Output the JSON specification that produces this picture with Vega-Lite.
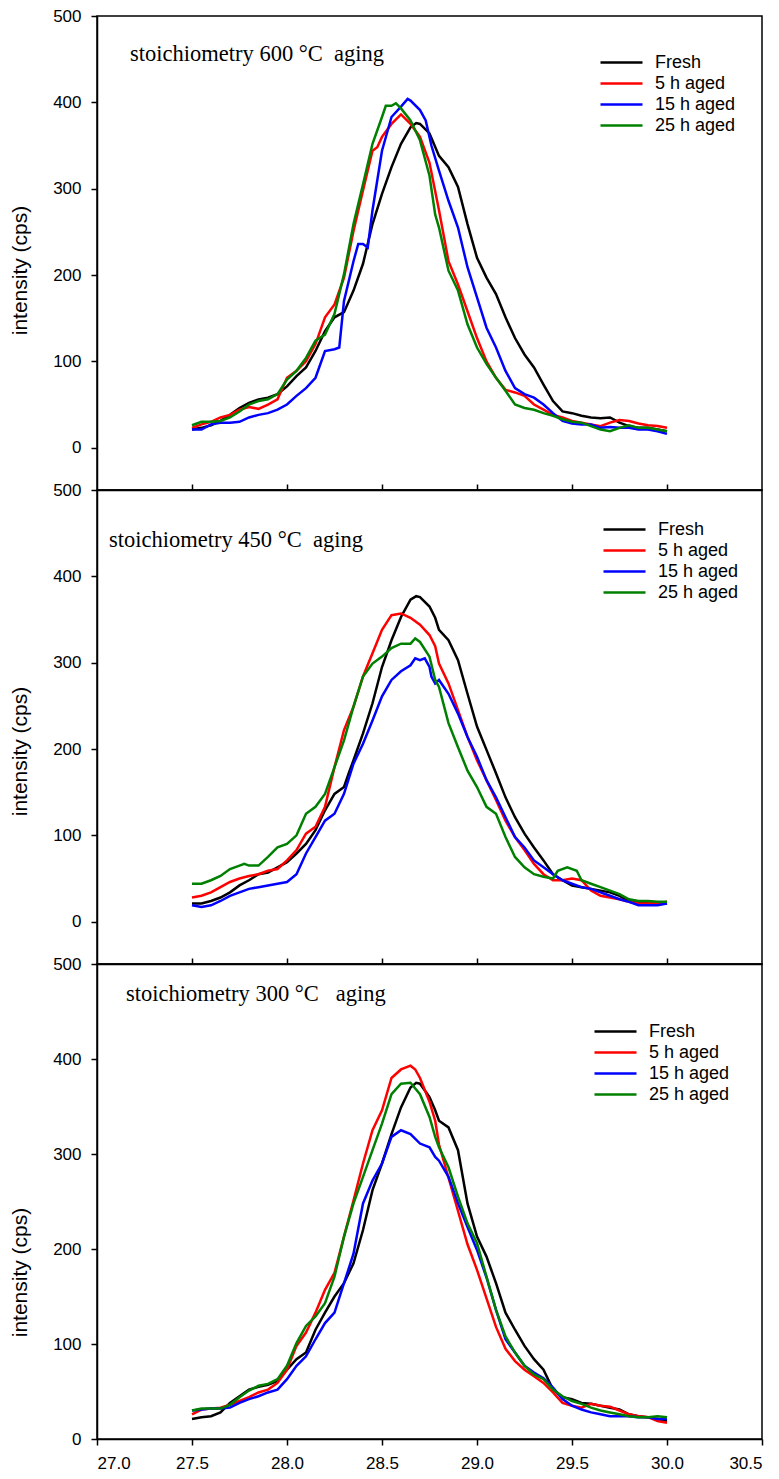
{
"$schema": "https://vega.github.io/schema/vega-lite/v6.json",
"autosize": {"type": "none"},
"padding": {"left": 97, "top": 16, "right": 682, "bottom": 1463},
"background": "white",
"spacing": 0,
"bounds": "flush",
"resolve": {"legend": {"color": "independent"}},
"config": {
  "font": "Liberation Sans",
  "view": {"stroke": "#000000", "strokeWidth": 1.5},
  "axis": {"domainColor": "#000000", "domainWidth": 1.5, "tickColor": "#000000", "tickWidth": 1.5, "labelColor": "#000000", "titleColor": "#000000", "labelFont": "Liberation Sans", "labelFontSize": 17, "titleFont": "Liberation Sans", "titleFontSize": 21, "titleFontWeight": "normal", "grid": false},
  "legend": {"labelFont": "Liberation Sans", "labelFontSize": 18, "labelColor": "#000000", "padding": 0, "rowPadding": 0, "symbolType": "M-2.1,0H2.1", "symbolSize": 400, "symbolStrokeWidth": 2.5, "labelOffset": 22, "orient": "none"}
},
"datasets": {
"curves": [
{"p":"600","s":"Fresh","x":27.5,"y":21},{"p":"600","s":"Fresh","x":27.55,"y":23},{"p":"600","s":"Fresh","x":27.6,"y":26},{"p":"600","s":"Fresh","x":27.65,"y":31},{"p":"600","s":"Fresh","x":27.7,"y":38},{"p":"600","s":"Fresh","x":27.75,"y":46},{"p":"600","s":"Fresh","x":27.8,"y":52},{"p":"600","s":"Fresh","x":27.85,"y":56},{"p":"600","s":"Fresh","x":27.9,"y":58},{"p":"600","s":"Fresh","x":27.95,"y":62},{"p":"600","s":"Fresh","x":28.0,"y":71},{"p":"600","s":"Fresh","x":28.05,"y":83},{"p":"600","s":"Fresh","x":28.1,"y":93},{"p":"600","s":"Fresh","x":28.15,"y":112},{"p":"600","s":"Fresh","x":28.2,"y":135},{"p":"600","s":"Fresh","x":28.25,"y":151},{"p":"600","s":"Fresh","x":28.3,"y":157},{"p":"600","s":"Fresh","x":28.35,"y":182},{"p":"600","s":"Fresh","x":28.4,"y":213},{"p":"600","s":"Fresh","x":28.45,"y":259},{"p":"600","s":"Fresh","x":28.5,"y":294},{"p":"600","s":"Fresh","x":28.55,"y":325},{"p":"600","s":"Fresh","x":28.6,"y":352},{"p":"600","s":"Fresh","x":28.65,"y":371},{"p":"600","s":"Fresh","x":28.68,"y":376},{"p":"600","s":"Fresh","x":28.7,"y":375},{"p":"600","s":"Fresh","x":28.75,"y":364},{"p":"600","s":"Fresh","x":28.8,"y":338},{"p":"600","s":"Fresh","x":28.85,"y":325},{"p":"600","s":"Fresh","x":28.9,"y":302},{"p":"600","s":"Fresh","x":28.95,"y":259},{"p":"600","s":"Fresh","x":29.0,"y":220},{"p":"600","s":"Fresh","x":29.05,"y":197},{"p":"600","s":"Fresh","x":29.1,"y":178},{"p":"600","s":"Fresh","x":29.15,"y":151},{"p":"600","s":"Fresh","x":29.2,"y":127},{"p":"600","s":"Fresh","x":29.25,"y":108},{"p":"600","s":"Fresh","x":29.3,"y":93},{"p":"600","s":"Fresh","x":29.35,"y":73},{"p":"600","s":"Fresh","x":29.4,"y":54},{"p":"600","s":"Fresh","x":29.45,"y":42},{"p":"600","s":"Fresh","x":29.5,"y":40},{"p":"600","s":"Fresh","x":29.55,"y":37},{"p":"600","s":"Fresh","x":29.6,"y":35},{"p":"600","s":"Fresh","x":29.65,"y":34},{"p":"600","s":"Fresh","x":29.7,"y":35},{"p":"600","s":"Fresh","x":29.75,"y":29},{"p":"600","s":"Fresh","x":29.8,"y":25},{"p":"600","s":"Fresh","x":29.85,"y":23},{"p":"600","s":"Fresh","x":29.9,"y":23},{"p":"600","s":"Fresh","x":29.95,"y":21},{"p":"600","s":"Fresh","x":30.0,"y":19},
{"p":"600","s":"5 h aged","x":27.5,"y":23},{"p":"600","s":"5 h aged","x":27.55,"y":27},{"p":"600","s":"5 h aged","x":27.6,"y":30},{"p":"600","s":"5 h aged","x":27.65,"y":35},{"p":"600","s":"5 h aged","x":27.7,"y":38},{"p":"600","s":"5 h aged","x":27.75,"y":44},{"p":"600","s":"5 h aged","x":27.8,"y":47},{"p":"600","s":"5 h aged","x":27.85,"y":45},{"p":"600","s":"5 h aged","x":27.9,"y":50},{"p":"600","s":"5 h aged","x":27.95,"y":56},{"p":"600","s":"5 h aged","x":28.0,"y":81},{"p":"600","s":"5 h aged","x":28.05,"y":89},{"p":"600","s":"5 h aged","x":28.1,"y":100},{"p":"600","s":"5 h aged","x":28.15,"y":120},{"p":"600","s":"5 h aged","x":28.2,"y":151},{"p":"600","s":"5 h aged","x":28.25,"y":166},{"p":"600","s":"5 h aged","x":28.3,"y":197},{"p":"600","s":"5 h aged","x":28.35,"y":251},{"p":"600","s":"5 h aged","x":28.4,"y":298},{"p":"600","s":"5 h aged","x":28.45,"y":344},{"p":"600","s":"5 h aged","x":28.475,"y":348},{"p":"600","s":"5 h aged","x":28.5,"y":360},{"p":"600","s":"5 h aged","x":28.55,"y":375},{"p":"600","s":"5 h aged","x":28.6,"y":386},{"p":"600","s":"5 h aged","x":28.65,"y":375},{"p":"600","s":"5 h aged","x":28.7,"y":360},{"p":"600","s":"5 h aged","x":28.75,"y":330},{"p":"600","s":"5 h aged","x":28.8,"y":275},{"p":"600","s":"5 h aged","x":28.85,"y":216},{"p":"600","s":"5 h aged","x":28.9,"y":189},{"p":"600","s":"5 h aged","x":28.95,"y":158},{"p":"600","s":"5 h aged","x":29.0,"y":127},{"p":"600","s":"5 h aged","x":29.05,"y":100},{"p":"600","s":"5 h aged","x":29.1,"y":81},{"p":"600","s":"5 h aged","x":29.15,"y":67},{"p":"600","s":"5 h aged","x":29.2,"y":64},{"p":"600","s":"5 h aged","x":29.25,"y":60},{"p":"600","s":"5 h aged","x":29.3,"y":50},{"p":"600","s":"5 h aged","x":29.35,"y":44},{"p":"600","s":"5 h aged","x":29.4,"y":38},{"p":"600","s":"5 h aged","x":29.45,"y":35},{"p":"600","s":"5 h aged","x":29.5,"y":31},{"p":"600","s":"5 h aged","x":29.55,"y":29},{"p":"600","s":"5 h aged","x":29.6,"y":27},{"p":"600","s":"5 h aged","x":29.65,"y":25},{"p":"600","s":"5 h aged","x":29.7,"y":29},{"p":"600","s":"5 h aged","x":29.75,"y":32},{"p":"600","s":"5 h aged","x":29.8,"y":31},{"p":"600","s":"5 h aged","x":29.85,"y":28},{"p":"600","s":"5 h aged","x":29.9,"y":26},{"p":"600","s":"5 h aged","x":29.95,"y":25},{"p":"600","s":"5 h aged","x":30.0,"y":23},
{"p":"600","s":"15 h aged","x":27.5,"y":21},{"p":"600","s":"15 h aged","x":27.55,"y":21},{"p":"600","s":"15 h aged","x":27.6,"y":27},{"p":"600","s":"15 h aged","x":27.65,"y":29},{"p":"600","s":"15 h aged","x":27.7,"y":29},{"p":"600","s":"15 h aged","x":27.75,"y":30},{"p":"600","s":"15 h aged","x":27.8,"y":35},{"p":"600","s":"15 h aged","x":27.85,"y":38},{"p":"600","s":"15 h aged","x":27.9,"y":40},{"p":"600","s":"15 h aged","x":27.95,"y":44},{"p":"600","s":"15 h aged","x":28.0,"y":50},{"p":"600","s":"15 h aged","x":28.05,"y":60},{"p":"600","s":"15 h aged","x":28.1,"y":69},{"p":"600","s":"15 h aged","x":28.15,"y":81},{"p":"600","s":"15 h aged","x":28.2,"y":112},{"p":"600","s":"15 h aged","x":28.25,"y":114},{"p":"600","s":"15 h aged","x":28.275,"y":116},{"p":"600","s":"15 h aged","x":28.3,"y":170},{"p":"600","s":"15 h aged","x":28.35,"y":216},{"p":"600","s":"15 h aged","x":28.375,"y":236},{"p":"600","s":"15 h aged","x":28.4,"y":236},{"p":"600","s":"15 h aged","x":28.425,"y":232},{"p":"600","s":"15 h aged","x":28.45,"y":275},{"p":"600","s":"15 h aged","x":28.5,"y":344},{"p":"600","s":"15 h aged","x":28.55,"y":383},{"p":"600","s":"15 h aged","x":28.6,"y":395},{"p":"600","s":"15 h aged","x":28.635,"y":404},{"p":"600","s":"15 h aged","x":28.65,"y":402},{"p":"600","s":"15 h aged","x":28.7,"y":391},{"p":"600","s":"15 h aged","x":28.73,"y":379},{"p":"600","s":"15 h aged","x":28.76,"y":350},{"p":"600","s":"15 h aged","x":28.8,"y":321},{"p":"600","s":"15 h aged","x":28.85,"y":286},{"p":"600","s":"15 h aged","x":28.9,"y":255},{"p":"600","s":"15 h aged","x":28.95,"y":209},{"p":"600","s":"15 h aged","x":29.0,"y":174},{"p":"600","s":"15 h aged","x":29.05,"y":139},{"p":"600","s":"15 h aged","x":29.1,"y":116},{"p":"600","s":"15 h aged","x":29.15,"y":89},{"p":"600","s":"15 h aged","x":29.2,"y":69},{"p":"600","s":"15 h aged","x":29.25,"y":62},{"p":"600","s":"15 h aged","x":29.3,"y":58},{"p":"600","s":"15 h aged","x":29.35,"y":50},{"p":"600","s":"15 h aged","x":29.4,"y":40},{"p":"600","s":"15 h aged","x":29.45,"y":31},{"p":"600","s":"15 h aged","x":29.5,"y":28},{"p":"600","s":"15 h aged","x":29.55,"y":27},{"p":"600","s":"15 h aged","x":29.6,"y":27},{"p":"600","s":"15 h aged","x":29.65,"y":23},{"p":"600","s":"15 h aged","x":29.7,"y":24},{"p":"600","s":"15 h aged","x":29.75,"y":23},{"p":"600","s":"15 h aged","x":29.8,"y":23},{"p":"600","s":"15 h aged","x":29.85,"y":21},{"p":"600","s":"15 h aged","x":29.9,"y":21},{"p":"600","s":"15 h aged","x":29.95,"y":19},{"p":"600","s":"15 h aged","x":30.0,"y":16},
{"p":"600","s":"25 h aged","x":27.5,"y":26},{"p":"600","s":"25 h aged","x":27.55,"y":30},{"p":"600","s":"25 h aged","x":27.6,"y":30},{"p":"600","s":"25 h aged","x":27.65,"y":31},{"p":"600","s":"25 h aged","x":27.7,"y":35},{"p":"600","s":"25 h aged","x":27.75,"y":42},{"p":"600","s":"25 h aged","x":27.8,"y":50},{"p":"600","s":"25 h aged","x":27.85,"y":54},{"p":"600","s":"25 h aged","x":27.9,"y":56},{"p":"600","s":"25 h aged","x":27.95,"y":62},{"p":"600","s":"25 h aged","x":28.0,"y":79},{"p":"600","s":"25 h aged","x":28.05,"y":89},{"p":"600","s":"25 h aged","x":28.1,"y":104},{"p":"600","s":"25 h aged","x":28.15,"y":124},{"p":"600","s":"25 h aged","x":28.2,"y":131},{"p":"600","s":"25 h aged","x":28.25,"y":155},{"p":"600","s":"25 h aged","x":28.3,"y":201},{"p":"600","s":"25 h aged","x":28.35,"y":259},{"p":"600","s":"25 h aged","x":28.4,"y":305},{"p":"600","s":"25 h aged","x":28.45,"y":352},{"p":"600","s":"25 h aged","x":28.5,"y":383},{"p":"600","s":"25 h aged","x":28.52,"y":396},{"p":"600","s":"25 h aged","x":28.55,"y":396},{"p":"600","s":"25 h aged","x":28.573,"y":399},{"p":"600","s":"25 h aged","x":28.6,"y":393},{"p":"600","s":"25 h aged","x":28.65,"y":379},{"p":"600","s":"25 h aged","x":28.7,"y":356},{"p":"600","s":"25 h aged","x":28.75,"y":315},{"p":"600","s":"25 h aged","x":28.78,"y":270},{"p":"600","s":"25 h aged","x":28.8,"y":255},{"p":"600","s":"25 h aged","x":28.85,"y":205},{"p":"600","s":"25 h aged","x":28.9,"y":182},{"p":"600","s":"25 h aged","x":28.95,"y":143},{"p":"600","s":"25 h aged","x":29.0,"y":116},{"p":"600","s":"25 h aged","x":29.05,"y":97},{"p":"600","s":"25 h aged","x":29.1,"y":81},{"p":"600","s":"25 h aged","x":29.15,"y":66},{"p":"600","s":"25 h aged","x":29.2,"y":50},{"p":"600","s":"25 h aged","x":29.25,"y":46},{"p":"600","s":"25 h aged","x":29.3,"y":44},{"p":"600","s":"25 h aged","x":29.35,"y":40},{"p":"600","s":"25 h aged","x":29.4,"y":37},{"p":"600","s":"25 h aged","x":29.45,"y":33},{"p":"600","s":"25 h aged","x":29.5,"y":30},{"p":"600","s":"25 h aged","x":29.55,"y":29},{"p":"600","s":"25 h aged","x":29.6,"y":25},{"p":"600","s":"25 h aged","x":29.65,"y":21},{"p":"600","s":"25 h aged","x":29.7,"y":19},{"p":"600","s":"25 h aged","x":29.75,"y":23},{"p":"600","s":"25 h aged","x":29.8,"y":26},{"p":"600","s":"25 h aged","x":29.85,"y":23},{"p":"600","s":"25 h aged","x":29.9,"y":23},{"p":"600","s":"25 h aged","x":29.95,"y":21},{"p":"600","s":"25 h aged","x":30.0,"y":19},
{"p":"450","s":"Fresh","x":27.5,"y":21},{"p":"450","s":"Fresh","x":27.55,"y":21},{"p":"450","s":"Fresh","x":27.6,"y":24},{"p":"450","s":"Fresh","x":27.65,"y":28},{"p":"450","s":"Fresh","x":27.7,"y":34},{"p":"450","s":"Fresh","x":27.75,"y":42},{"p":"450","s":"Fresh","x":27.8,"y":48},{"p":"450","s":"Fresh","x":27.85,"y":55},{"p":"450","s":"Fresh","x":27.9,"y":57},{"p":"450","s":"Fresh","x":27.95,"y":63},{"p":"450","s":"Fresh","x":28.0,"y":69},{"p":"450","s":"Fresh","x":28.05,"y":79},{"p":"450","s":"Fresh","x":28.1,"y":90},{"p":"450","s":"Fresh","x":28.15,"y":106},{"p":"450","s":"Fresh","x":28.2,"y":129},{"p":"450","s":"Fresh","x":28.25,"y":148},{"p":"450","s":"Fresh","x":28.3,"y":156},{"p":"450","s":"Fresh","x":28.325,"y":172},{"p":"450","s":"Fresh","x":28.35,"y":187},{"p":"450","s":"Fresh","x":28.4,"y":218},{"p":"450","s":"Fresh","x":28.45,"y":253},{"p":"450","s":"Fresh","x":28.5,"y":295},{"p":"450","s":"Fresh","x":28.55,"y":326},{"p":"450","s":"Fresh","x":28.6,"y":353},{"p":"450","s":"Fresh","x":28.65,"y":373},{"p":"450","s":"Fresh","x":28.68,"y":377},{"p":"450","s":"Fresh","x":28.7,"y":376},{"p":"450","s":"Fresh","x":28.75,"y":365},{"p":"450","s":"Fresh","x":28.78,"y":352},{"p":"450","s":"Fresh","x":28.8,"y":338},{"p":"450","s":"Fresh","x":28.85,"y":326},{"p":"450","s":"Fresh","x":28.9,"y":303},{"p":"450","s":"Fresh","x":28.95,"y":264},{"p":"450","s":"Fresh","x":29.0,"y":226},{"p":"450","s":"Fresh","x":29.05,"y":199},{"p":"450","s":"Fresh","x":29.1,"y":172},{"p":"450","s":"Fresh","x":29.15,"y":144},{"p":"450","s":"Fresh","x":29.2,"y":121},{"p":"450","s":"Fresh","x":29.25,"y":102},{"p":"450","s":"Fresh","x":29.3,"y":86},{"p":"450","s":"Fresh","x":29.35,"y":71},{"p":"450","s":"Fresh","x":29.4,"y":55},{"p":"450","s":"Fresh","x":29.45,"y":48},{"p":"450","s":"Fresh","x":29.5,"y":42},{"p":"450","s":"Fresh","x":29.55,"y":40},{"p":"450","s":"Fresh","x":29.6,"y":38},{"p":"450","s":"Fresh","x":29.65,"y":36},{"p":"450","s":"Fresh","x":29.7,"y":34},{"p":"450","s":"Fresh","x":29.75,"y":30},{"p":"450","s":"Fresh","x":29.8,"y":24},{"p":"450","s":"Fresh","x":29.85,"y":23},{"p":"450","s":"Fresh","x":29.9,"y":21},{"p":"450","s":"Fresh","x":29.95,"y":21},{"p":"450","s":"Fresh","x":30.0,"y":21},
{"p":"450","s":"5 h aged","x":27.5,"y":28},{"p":"450","s":"5 h aged","x":27.55,"y":30},{"p":"450","s":"5 h aged","x":27.6,"y":34},{"p":"450","s":"5 h aged","x":27.65,"y":40},{"p":"450","s":"5 h aged","x":27.7,"y":46},{"p":"450","s":"5 h aged","x":27.75,"y":50},{"p":"450","s":"5 h aged","x":27.8,"y":53},{"p":"450","s":"5 h aged","x":27.85,"y":55},{"p":"450","s":"5 h aged","x":27.9,"y":59},{"p":"450","s":"5 h aged","x":27.95,"y":61},{"p":"450","s":"5 h aged","x":28.0,"y":71},{"p":"450","s":"5 h aged","x":28.05,"y":83},{"p":"450","s":"5 h aged","x":28.1,"y":102},{"p":"450","s":"5 h aged","x":28.15,"y":110},{"p":"450","s":"5 h aged","x":28.2,"y":133},{"p":"450","s":"5 h aged","x":28.25,"y":179},{"p":"450","s":"5 h aged","x":28.3,"y":222},{"p":"450","s":"5 h aged","x":28.35,"y":249},{"p":"450","s":"5 h aged","x":28.4,"y":284},{"p":"450","s":"5 h aged","x":28.45,"y":311},{"p":"450","s":"5 h aged","x":28.5,"y":338},{"p":"450","s":"5 h aged","x":28.55,"y":355},{"p":"450","s":"5 h aged","x":28.6,"y":357},{"p":"450","s":"5 h aged","x":28.65,"y":352},{"p":"450","s":"5 h aged","x":28.7,"y":344},{"p":"450","s":"5 h aged","x":28.75,"y":332},{"p":"450","s":"5 h aged","x":28.78,"y":319},{"p":"450","s":"5 h aged","x":28.8,"y":299},{"p":"450","s":"5 h aged","x":28.85,"y":276},{"p":"450","s":"5 h aged","x":28.9,"y":245},{"p":"450","s":"5 h aged","x":28.95,"y":214},{"p":"450","s":"5 h aged","x":29.0,"y":187},{"p":"450","s":"5 h aged","x":29.05,"y":164},{"p":"450","s":"5 h aged","x":29.1,"y":141},{"p":"450","s":"5 h aged","x":29.15,"y":117},{"p":"450","s":"5 h aged","x":29.2,"y":98},{"p":"450","s":"5 h aged","x":29.25,"y":83},{"p":"450","s":"5 h aged","x":29.3,"y":67},{"p":"450","s":"5 h aged","x":29.35,"y":55},{"p":"450","s":"5 h aged","x":29.4,"y":48},{"p":"450","s":"5 h aged","x":29.45,"y":48},{"p":"450","s":"5 h aged","x":29.5,"y":50},{"p":"450","s":"5 h aged","x":29.55,"y":48},{"p":"450","s":"5 h aged","x":29.6,"y":36},{"p":"450","s":"5 h aged","x":29.65,"y":30},{"p":"450","s":"5 h aged","x":29.7,"y":28},{"p":"450","s":"5 h aged","x":29.75,"y":26},{"p":"450","s":"5 h aged","x":29.8,"y":23},{"p":"450","s":"5 h aged","x":29.85,"y":21},{"p":"450","s":"5 h aged","x":29.9,"y":21},{"p":"450","s":"5 h aged","x":29.95,"y":21},{"p":"450","s":"5 h aged","x":30.0,"y":23},
{"p":"450","s":"15 h aged","x":27.5,"y":19},{"p":"450","s":"15 h aged","x":27.55,"y":17},{"p":"450","s":"15 h aged","x":27.6,"y":19},{"p":"450","s":"15 h aged","x":27.65,"y":24},{"p":"450","s":"15 h aged","x":27.7,"y":30},{"p":"450","s":"15 h aged","x":27.75,"y":34},{"p":"450","s":"15 h aged","x":27.8,"y":38},{"p":"450","s":"15 h aged","x":27.85,"y":40},{"p":"450","s":"15 h aged","x":27.9,"y":42},{"p":"450","s":"15 h aged","x":27.95,"y":44},{"p":"450","s":"15 h aged","x":28.0,"y":46},{"p":"450","s":"15 h aged","x":28.05,"y":55},{"p":"450","s":"15 h aged","x":28.1,"y":79},{"p":"450","s":"15 h aged","x":28.15,"y":98},{"p":"450","s":"15 h aged","x":28.2,"y":117},{"p":"450","s":"15 h aged","x":28.25,"y":125},{"p":"450","s":"15 h aged","x":28.3,"y":148},{"p":"450","s":"15 h aged","x":28.35,"y":183},{"p":"450","s":"15 h aged","x":28.4,"y":206},{"p":"450","s":"15 h aged","x":28.45,"y":233},{"p":"450","s":"15 h aged","x":28.5,"y":261},{"p":"450","s":"15 h aged","x":28.55,"y":280},{"p":"450","s":"15 h aged","x":28.6,"y":290},{"p":"450","s":"15 h aged","x":28.65,"y":297},{"p":"450","s":"15 h aged","x":28.675,"y":305},{"p":"450","s":"15 h aged","x":28.7,"y":303},{"p":"450","s":"15 h aged","x":28.725,"y":305},{"p":"450","s":"15 h aged","x":28.75,"y":295},{"p":"450","s":"15 h aged","x":28.76,"y":284},{"p":"450","s":"15 h aged","x":28.78,"y":276},{"p":"450","s":"15 h aged","x":28.8,"y":280},{"p":"450","s":"15 h aged","x":28.85,"y":264},{"p":"450","s":"15 h aged","x":28.9,"y":241},{"p":"450","s":"15 h aged","x":28.95,"y":214},{"p":"450","s":"15 h aged","x":29.0,"y":191},{"p":"450","s":"15 h aged","x":29.05,"y":164},{"p":"450","s":"15 h aged","x":29.1,"y":144},{"p":"450","s":"15 h aged","x":29.15,"y":121},{"p":"450","s":"15 h aged","x":29.2,"y":98},{"p":"450","s":"15 h aged","x":29.25,"y":86},{"p":"450","s":"15 h aged","x":29.3,"y":71},{"p":"450","s":"15 h aged","x":29.35,"y":63},{"p":"450","s":"15 h aged","x":29.4,"y":55},{"p":"450","s":"15 h aged","x":29.45,"y":48},{"p":"450","s":"15 h aged","x":29.5,"y":44},{"p":"450","s":"15 h aged","x":29.55,"y":40},{"p":"450","s":"15 h aged","x":29.6,"y":38},{"p":"450","s":"15 h aged","x":29.65,"y":34},{"p":"450","s":"15 h aged","x":29.7,"y":30},{"p":"450","s":"15 h aged","x":29.75,"y":26},{"p":"450","s":"15 h aged","x":29.8,"y":23},{"p":"450","s":"15 h aged","x":29.85,"y":19},{"p":"450","s":"15 h aged","x":29.9,"y":19},{"p":"450","s":"15 h aged","x":29.95,"y":19},{"p":"450","s":"15 h aged","x":30.0,"y":21},
{"p":"450","s":"25 h aged","x":27.5,"y":44},{"p":"450","s":"25 h aged","x":27.55,"y":44},{"p":"450","s":"25 h aged","x":27.6,"y":48},{"p":"450","s":"25 h aged","x":27.65,"y":53},{"p":"450","s":"25 h aged","x":27.7,"y":61},{"p":"450","s":"25 h aged","x":27.75,"y":65},{"p":"450","s":"25 h aged","x":27.775,"y":67},{"p":"450","s":"25 h aged","x":27.8,"y":65},{"p":"450","s":"25 h aged","x":27.85,"y":65},{"p":"450","s":"25 h aged","x":27.9,"y":75},{"p":"450","s":"25 h aged","x":27.95,"y":86},{"p":"450","s":"25 h aged","x":28.0,"y":90},{"p":"450","s":"25 h aged","x":28.05,"y":100},{"p":"450","s":"25 h aged","x":28.1,"y":125},{"p":"450","s":"25 h aged","x":28.15,"y":133},{"p":"450","s":"25 h aged","x":28.2,"y":148},{"p":"450","s":"25 h aged","x":28.25,"y":179},{"p":"450","s":"25 h aged","x":28.3,"y":210},{"p":"450","s":"25 h aged","x":28.35,"y":249},{"p":"450","s":"25 h aged","x":28.4,"y":284},{"p":"450","s":"25 h aged","x":28.45,"y":299},{"p":"450","s":"25 h aged","x":28.5,"y":307},{"p":"450","s":"25 h aged","x":28.55,"y":317},{"p":"450","s":"25 h aged","x":28.6,"y":322},{"p":"450","s":"25 h aged","x":28.65,"y":322},{"p":"450","s":"25 h aged","x":28.675,"y":328},{"p":"450","s":"25 h aged","x":28.7,"y":324},{"p":"450","s":"25 h aged","x":28.75,"y":307},{"p":"450","s":"25 h aged","x":28.78,"y":280},{"p":"450","s":"25 h aged","x":28.8,"y":272},{"p":"450","s":"25 h aged","x":28.85,"y":230},{"p":"450","s":"25 h aged","x":28.9,"y":202},{"p":"450","s":"25 h aged","x":28.95,"y":175},{"p":"450","s":"25 h aged","x":29.0,"y":156},{"p":"450","s":"25 h aged","x":29.05,"y":133},{"p":"450","s":"25 h aged","x":29.1,"y":125},{"p":"450","s":"25 h aged","x":29.15,"y":98},{"p":"450","s":"25 h aged","x":29.2,"y":75},{"p":"450","s":"25 h aged","x":29.25,"y":63},{"p":"450","s":"25 h aged","x":29.3,"y":55},{"p":"450","s":"25 h aged","x":29.35,"y":52},{"p":"450","s":"25 h aged","x":29.4,"y":50},{"p":"450","s":"25 h aged","x":29.425,"y":59},{"p":"450","s":"25 h aged","x":29.475,"y":63},{"p":"450","s":"25 h aged","x":29.525,"y":59},{"p":"450","s":"25 h aged","x":29.55,"y":48},{"p":"450","s":"25 h aged","x":29.6,"y":44},{"p":"450","s":"25 h aged","x":29.65,"y":40},{"p":"450","s":"25 h aged","x":29.7,"y":36},{"p":"450","s":"25 h aged","x":29.75,"y":32},{"p":"450","s":"25 h aged","x":29.8,"y":26},{"p":"450","s":"25 h aged","x":29.85,"y":24},{"p":"450","s":"25 h aged","x":29.9,"y":24},{"p":"450","s":"25 h aged","x":29.95,"y":23},{"p":"450","s":"25 h aged","x":30.0,"y":23},
{"p":"300","s":"Fresh","x":27.5,"y":21},{"p":"300","s":"Fresh","x":27.55,"y":23},{"p":"300","s":"Fresh","x":27.6,"y":24},{"p":"300","s":"Fresh","x":27.65,"y":28},{"p":"300","s":"Fresh","x":27.7,"y":38},{"p":"300","s":"Fresh","x":27.75,"y":45},{"p":"300","s":"Fresh","x":27.8,"y":52},{"p":"300","s":"Fresh","x":27.85,"y":55},{"p":"300","s":"Fresh","x":27.9,"y":57},{"p":"300","s":"Fresh","x":27.95,"y":61},{"p":"300","s":"Fresh","x":28.0,"y":73},{"p":"300","s":"Fresh","x":28.05,"y":84},{"p":"300","s":"Fresh","x":28.1,"y":91},{"p":"300","s":"Fresh","x":28.15,"y":115},{"p":"300","s":"Fresh","x":28.2,"y":133},{"p":"300","s":"Fresh","x":28.25,"y":150},{"p":"300","s":"Fresh","x":28.3,"y":164},{"p":"300","s":"Fresh","x":28.35,"y":185},{"p":"300","s":"Fresh","x":28.4,"y":220},{"p":"300","s":"Fresh","x":28.45,"y":262},{"p":"300","s":"Fresh","x":28.5,"y":290},{"p":"300","s":"Fresh","x":28.55,"y":321},{"p":"300","s":"Fresh","x":28.6,"y":349},{"p":"300","s":"Fresh","x":28.65,"y":370},{"p":"300","s":"Fresh","x":28.68,"y":375},{"p":"300","s":"Fresh","x":28.7,"y":374},{"p":"300","s":"Fresh","x":28.75,"y":360},{"p":"300","s":"Fresh","x":28.78,"y":346},{"p":"300","s":"Fresh","x":28.8,"y":335},{"p":"300","s":"Fresh","x":28.85,"y":328},{"p":"300","s":"Fresh","x":28.9,"y":304},{"p":"300","s":"Fresh","x":28.95,"y":248},{"p":"300","s":"Fresh","x":29.0,"y":213},{"p":"300","s":"Fresh","x":29.05,"y":192},{"p":"300","s":"Fresh","x":29.1,"y":164},{"p":"300","s":"Fresh","x":29.15,"y":133},{"p":"300","s":"Fresh","x":29.2,"y":115},{"p":"300","s":"Fresh","x":29.25,"y":98},{"p":"300","s":"Fresh","x":29.3,"y":84},{"p":"300","s":"Fresh","x":29.35,"y":73},{"p":"300","s":"Fresh","x":29.4,"y":52},{"p":"300","s":"Fresh","x":29.45,"y":44},{"p":"300","s":"Fresh","x":29.5,"y":42},{"p":"300","s":"Fresh","x":29.55,"y":38},{"p":"300","s":"Fresh","x":29.6,"y":37},{"p":"300","s":"Fresh","x":29.65,"y":35},{"p":"300","s":"Fresh","x":29.7,"y":33},{"p":"300","s":"Fresh","x":29.75,"y":31},{"p":"300","s":"Fresh","x":29.8,"y":26},{"p":"300","s":"Fresh","x":29.85,"y":24},{"p":"300","s":"Fresh","x":29.9,"y":23},{"p":"300","s":"Fresh","x":29.95,"y":21},{"p":"300","s":"Fresh","x":30.0,"y":19},
{"p":"300","s":"5 h aged","x":27.5,"y":26},{"p":"300","s":"5 h aged","x":27.55,"y":31},{"p":"300","s":"5 h aged","x":27.6,"y":32},{"p":"300","s":"5 h aged","x":27.65,"y":33},{"p":"300","s":"5 h aged","x":27.7,"y":36},{"p":"300","s":"5 h aged","x":27.75,"y":40},{"p":"300","s":"5 h aged","x":27.8,"y":44},{"p":"300","s":"5 h aged","x":27.85,"y":49},{"p":"300","s":"5 h aged","x":27.9,"y":52},{"p":"300","s":"5 h aged","x":27.95,"y":59},{"p":"300","s":"5 h aged","x":28.0,"y":73},{"p":"300","s":"5 h aged","x":28.05,"y":98},{"p":"300","s":"5 h aged","x":28.1,"y":112},{"p":"300","s":"5 h aged","x":28.15,"y":133},{"p":"300","s":"5 h aged","x":28.2,"y":157},{"p":"300","s":"5 h aged","x":28.25,"y":175},{"p":"300","s":"5 h aged","x":28.3,"y":213},{"p":"300","s":"5 h aged","x":28.35,"y":251},{"p":"300","s":"5 h aged","x":28.4,"y":290},{"p":"300","s":"5 h aged","x":28.45,"y":325},{"p":"300","s":"5 h aged","x":28.5,"y":346},{"p":"300","s":"5 h aged","x":28.55,"y":380},{"p":"300","s":"5 h aged","x":28.6,"y":389},{"p":"300","s":"5 h aged","x":28.65,"y":393},{"p":"300","s":"5 h aged","x":28.675,"y":389},{"p":"300","s":"5 h aged","x":28.7,"y":380},{"p":"300","s":"5 h aged","x":28.75,"y":355},{"p":"300","s":"5 h aged","x":28.78,"y":335},{"p":"300","s":"5 h aged","x":28.8,"y":310},{"p":"300","s":"5 h aged","x":28.85,"y":275},{"p":"300","s":"5 h aged","x":28.9,"y":240},{"p":"300","s":"5 h aged","x":28.95,"y":205},{"p":"300","s":"5 h aged","x":29.0,"y":178},{"p":"300","s":"5 h aged","x":29.05,"y":148},{"p":"300","s":"5 h aged","x":29.1,"y":118},{"p":"300","s":"5 h aged","x":29.15,"y":95},{"p":"300","s":"5 h aged","x":29.2,"y":82},{"p":"300","s":"5 h aged","x":29.25,"y":73},{"p":"300","s":"5 h aged","x":29.3,"y":66},{"p":"300","s":"5 h aged","x":29.35,"y":59},{"p":"300","s":"5 h aged","x":29.4,"y":49},{"p":"300","s":"5 h aged","x":29.45,"y":38},{"p":"300","s":"5 h aged","x":29.5,"y":35},{"p":"300","s":"5 h aged","x":29.55,"y":33},{"p":"300","s":"5 h aged","x":29.6,"y":37},{"p":"300","s":"5 h aged","x":29.65,"y":35},{"p":"300","s":"5 h aged","x":29.7,"y":34},{"p":"300","s":"5 h aged","x":29.75,"y":30},{"p":"300","s":"5 h aged","x":29.8,"y":26},{"p":"300","s":"5 h aged","x":29.85,"y":24},{"p":"300","s":"5 h aged","x":29.9,"y":23},{"p":"300","s":"5 h aged","x":29.95,"y":19},{"p":"300","s":"5 h aged","x":30.0,"y":17},
{"p":"300","s":"15 h aged","x":27.5,"y":30},{"p":"300","s":"15 h aged","x":27.55,"y":31},{"p":"300","s":"15 h aged","x":27.6,"y":32},{"p":"300","s":"15 h aged","x":27.65,"y":32},{"p":"300","s":"15 h aged","x":27.7,"y":33},{"p":"300","s":"15 h aged","x":27.75,"y":38},{"p":"300","s":"15 h aged","x":27.8,"y":42},{"p":"300","s":"15 h aged","x":27.85,"y":45},{"p":"300","s":"15 h aged","x":27.9,"y":49},{"p":"300","s":"15 h aged","x":27.95,"y":52},{"p":"300","s":"15 h aged","x":28.0,"y":63},{"p":"300","s":"15 h aged","x":28.05,"y":77},{"p":"300","s":"15 h aged","x":28.1,"y":87},{"p":"300","s":"15 h aged","x":28.15,"y":105},{"p":"300","s":"15 h aged","x":28.2,"y":122},{"p":"300","s":"15 h aged","x":28.25,"y":133},{"p":"300","s":"15 h aged","x":28.3,"y":164},{"p":"300","s":"15 h aged","x":28.35,"y":195},{"p":"300","s":"15 h aged","x":28.4,"y":248},{"p":"300","s":"15 h aged","x":28.45,"y":272},{"p":"300","s":"15 h aged","x":28.5,"y":290},{"p":"300","s":"15 h aged","x":28.55,"y":318},{"p":"300","s":"15 h aged","x":28.6,"y":325},{"p":"300","s":"15 h aged","x":28.65,"y":321},{"p":"300","s":"15 h aged","x":28.7,"y":311},{"p":"300","s":"15 h aged","x":28.75,"y":307},{"p":"300","s":"15 h aged","x":28.78,"y":297},{"p":"300","s":"15 h aged","x":28.8,"y":293},{"p":"300","s":"15 h aged","x":28.85,"y":276},{"p":"300","s":"15 h aged","x":28.9,"y":248},{"p":"300","s":"15 h aged","x":28.95,"y":223},{"p":"300","s":"15 h aged","x":29.0,"y":199},{"p":"300","s":"15 h aged","x":29.05,"y":170},{"p":"300","s":"15 h aged","x":29.1,"y":136},{"p":"300","s":"15 h aged","x":29.15,"y":105},{"p":"300","s":"15 h aged","x":29.2,"y":91},{"p":"300","s":"15 h aged","x":29.25,"y":77},{"p":"300","s":"15 h aged","x":29.3,"y":70},{"p":"300","s":"15 h aged","x":29.35,"y":64},{"p":"300","s":"15 h aged","x":29.4,"y":54},{"p":"300","s":"15 h aged","x":29.45,"y":42},{"p":"300","s":"15 h aged","x":29.5,"y":35},{"p":"300","s":"15 h aged","x":29.55,"y":31},{"p":"300","s":"15 h aged","x":29.6,"y":28},{"p":"300","s":"15 h aged","x":29.65,"y":26},{"p":"300","s":"15 h aged","x":29.7,"y":24},{"p":"300","s":"15 h aged","x":29.75,"y":24},{"p":"300","s":"15 h aged","x":29.8,"y":24},{"p":"300","s":"15 h aged","x":29.85,"y":23},{"p":"300","s":"15 h aged","x":29.9,"y":23},{"p":"300","s":"15 h aged","x":29.95,"y":21},{"p":"300","s":"15 h aged","x":30.0,"y":21},
{"p":"300","s":"25 h aged","x":27.5,"y":30},{"p":"300","s":"25 h aged","x":27.55,"y":32},{"p":"300","s":"25 h aged","x":27.6,"y":32},{"p":"300","s":"25 h aged","x":27.65,"y":32},{"p":"300","s":"25 h aged","x":27.7,"y":36},{"p":"300","s":"25 h aged","x":27.75,"y":44},{"p":"300","s":"25 h aged","x":27.8,"y":51},{"p":"300","s":"25 h aged","x":27.85,"y":56},{"p":"300","s":"25 h aged","x":27.9,"y":58},{"p":"300","s":"25 h aged","x":27.95,"y":63},{"p":"300","s":"25 h aged","x":28.0,"y":77},{"p":"300","s":"25 h aged","x":28.05,"y":101},{"p":"300","s":"25 h aged","x":28.1,"y":119},{"p":"300","s":"25 h aged","x":28.15,"y":129},{"p":"300","s":"25 h aged","x":28.2,"y":143},{"p":"300","s":"25 h aged","x":28.25,"y":171},{"p":"300","s":"25 h aged","x":28.3,"y":213},{"p":"300","s":"25 h aged","x":28.35,"y":248},{"p":"300","s":"25 h aged","x":28.4,"y":276},{"p":"300","s":"25 h aged","x":28.45,"y":304},{"p":"300","s":"25 h aged","x":28.5,"y":332},{"p":"300","s":"25 h aged","x":28.55,"y":363},{"p":"300","s":"25 h aged","x":28.6,"y":374},{"p":"300","s":"25 h aged","x":28.65,"y":375},{"p":"300","s":"25 h aged","x":28.7,"y":363},{"p":"300","s":"25 h aged","x":28.75,"y":339},{"p":"300","s":"25 h aged","x":28.78,"y":318},{"p":"300","s":"25 h aged","x":28.8,"y":307},{"p":"300","s":"25 h aged","x":28.85,"y":286},{"p":"300","s":"25 h aged","x":28.9,"y":255},{"p":"300","s":"25 h aged","x":28.95,"y":227},{"p":"300","s":"25 h aged","x":29.0,"y":206},{"p":"300","s":"25 h aged","x":29.05,"y":171},{"p":"300","s":"25 h aged","x":29.1,"y":136},{"p":"300","s":"25 h aged","x":29.15,"y":108},{"p":"300","s":"25 h aged","x":29.2,"y":91},{"p":"300","s":"25 h aged","x":29.25,"y":77},{"p":"300","s":"25 h aged","x":29.3,"y":68},{"p":"300","s":"25 h aged","x":29.35,"y":63},{"p":"300","s":"25 h aged","x":29.4,"y":52},{"p":"300","s":"25 h aged","x":29.45,"y":45},{"p":"300","s":"25 h aged","x":29.5,"y":40},{"p":"300","s":"25 h aged","x":29.55,"y":37},{"p":"300","s":"25 h aged","x":29.6,"y":33},{"p":"300","s":"25 h aged","x":29.65,"y":30},{"p":"300","s":"25 h aged","x":29.7,"y":28},{"p":"300","s":"25 h aged","x":29.75,"y":26},{"p":"300","s":"25 h aged","x":29.8,"y":24},{"p":"300","s":"25 h aged","x":29.85,"y":23},{"p":"300","s":"25 h aged","x":29.9,"y":23},{"p":"300","s":"25 h aged","x":29.95,"y":24},{"p":"300","s":"25 h aged","x":30.0,"y":23}
],
"labels": [
{"p":"600","x":27.174,"y":456,"t":"stoichiometry 600 °C\u00a0 aging"},
{"p":"450","x":27.063,"y":442,"t":"stoichiometry 450 °C\u00a0 aging"},
{"p":"300","x":27.153,"y":468,"t":"stoichiometry 300 °C\u00a0\u00a0 aging"}
]
},
"vconcat": [
{
 "width": 665, "height": 474,
 "layer": [
  {"data": {"name": "curves"}, "transform": [{"filter": "datum.p == '600'"}],
   "mark": {"type": "line", "strokeWidth": 2.5},
   "encoding": {
    "x": {"field": "x", "type": "quantitative", "scale": {"domain": [27, 30.5], "nice": false, "zero": false}, "axis": {"values": [27.5, 28, 28.5, 29, 29.5, 30], "labels": false, "tickSize": -6, "title": null}},
    "y": {"field": "y", "type": "quantitative", "scale": {"domain": [-49, 500], "nice": false, "zero": false}, "axis": {"values": [0, 100, 200, 300, 400, 500], "tickSize": 6, "labelPadding": 10, "title": "intensity (cps)", "titleX": -77, "titleY": 254, "titleBaseline": "middle", "titleAngle": 270}},
    "color": {"field": "s", "type": "nominal", "scale": {"domain": ["Fresh", "5 h aged", "15 h aged", "25 h aged"], "range": ["#000000", "#ff0000", "#0000ff", "#008000"]}, "legend": {"title": null, "orient": "none", "legendX": 513, "legendY": 35}}
   }},
  {"data": {"name": "labels"}, "transform": [{"filter": "datum.p == '600'"}],
   "mark": {"type": "text", "font": "Liberation Serif", "fontSize": 22.5, "align": "left", "baseline": "middle", "color": "#000000"},
   "encoding": {"x": {"field": "x", "type": "quantitative"}, "y": {"field": "y", "type": "quantitative"}, "text": {"field": "t"}}}
 ]
},
{
 "width": 665, "height": 474,
 "layer": [
  {"data": {"name": "curves"}, "transform": [{"filter": "datum.p == '450'"}],
   "mark": {"type": "line", "strokeWidth": 2.5},
   "encoding": {
    "x": {"field": "x", "type": "quantitative", "scale": {"domain": [27, 30.5], "nice": false, "zero": false}, "axis": {"values": [27.5, 28, 28.5, 29, 29.5, 30], "labels": false, "tickSize": -6, "title": null}},
    "y": {"field": "y", "type": "quantitative", "scale": {"domain": [-49, 500], "nice": false, "zero": false}, "axis": {"values": [0, 100, 200, 300, 400, 500], "tickSize": 6, "labelPadding": 10, "title": "intensity (cps)", "titleX": -77, "titleY": 261, "titleBaseline": "middle", "titleAngle": 270}},
    "color": {"field": "s", "type": "nominal", "scale": {"domain": ["Fresh", "5 h aged", "15 h aged", "25 h aged"], "range": ["#000000", "#ff0000", "#0000ff", "#008000"]}, "legend": {"title": null, "orient": "none", "legendX": 516, "legendY": 28}}
   }},
  {"data": {"name": "labels"}, "transform": [{"filter": "datum.p == '450'"}],
   "mark": {"type": "text", "font": "Liberation Serif", "fontSize": 22.5, "align": "left", "baseline": "middle", "color": "#000000"},
   "encoding": {"x": {"field": "x", "type": "quantitative"}, "y": {"field": "y", "type": "quantitative"}, "text": {"field": "t"}}}
 ]
},
{
 "width": 665, "height": 475,
 "layer": [
  {"data": {"name": "curves"}, "transform": [{"filter": "datum.p == '300'"}],
   "mark": {"type": "line", "strokeWidth": 2.5},
   "encoding": {
    "x": {"field": "x", "type": "quantitative", "scale": {"domain": [27, 30.5], "nice": false, "zero": false}, "axis": {"values": [27, 27.5, 28, 28.5, 29, 29.5, 30, 30.5], "format": ".1f", "tickSize": 6, "labelPadding": 10, "title": null}},
    "y": {"field": "y", "type": "quantitative", "scale": {"domain": [0, 500], "nice": false, "zero": false}, "axis": {"values": [0, 100, 200, 300, 400, 500], "tickSize": 6, "labelPadding": 10, "title": "intensity (cps)", "titleX": -77, "titleY": 308, "titleBaseline": "middle", "titleAngle": 270}},
    "color": {"field": "s", "type": "nominal", "scale": {"domain": ["Fresh", "5 h aged", "15 h aged", "25 h aged"], "range": ["#000000", "#ff0000", "#0000ff", "#008000"]}, "legend": {"title": null, "orient": "none", "legendX": 507, "legendY": 56}}
   }},
  {"data": {"name": "labels"}, "transform": [{"filter": "datum.p == '300'"}],
   "mark": {"type": "text", "font": "Liberation Serif", "fontSize": 22.5, "align": "left", "baseline": "middle", "color": "#000000"},
   "encoding": {"x": {"field": "x", "type": "quantitative"}, "y": {"field": "y", "type": "quantitative"}, "text": {"field": "t"}}}
 ]
}
]
}
